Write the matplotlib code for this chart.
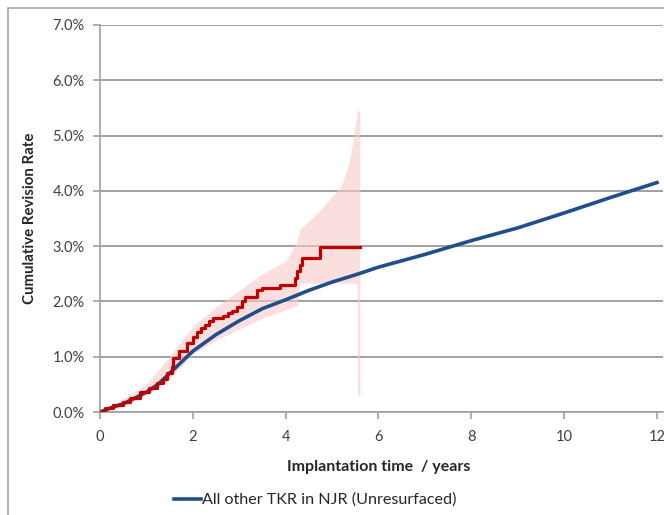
import matplotlib
matplotlib.use("Agg")
import matplotlib.pyplot as plt
from matplotlib.patches import Rectangle
from matplotlib.ticker import FuncFormatter

# Blue: all other TKR in NJR (unresurfaced), cumulative revision %
blue_x = [0, 0.25, 0.5, 0.75, 1, 1.25, 1.5, 1.75, 2, 2.5, 3, 3.5, 4, 4.5, 5, 5.5, 6, 7, 8, 9, 10, 11, 12]
blue_y = [0, 0.08, 0.15, 0.25, 0.36, 0.5, 0.7, 0.9, 1.1, 1.4, 1.65, 1.87, 2.03, 2.2, 2.35, 2.48, 2.62, 2.85, 3.1, 3.33, 3.6, 3.88, 4.15]

# Red: step curve (Kaplan-Meier style)
red_x = [0, 0.1, 0.28, 0.5, 0.65, 0.86, 1.05, 1.23, 1.35, 1.44, 1.55, 1.58, 1.7, 1.87, 2.0, 2.09, 2.18, 2.26, 2.35, 2.44,
         2.65, 2.75, 2.84, 2.95, 3.05, 3.12, 3.38, 3.49, 3.88, 4.2, 4.24, 4.31, 4.35, 4.74, 5.6]
red_y = [0, 0.07, 0.13, 0.18, 0.25, 0.36, 0.44, 0.52, 0.6, 0.7, 0.82, 0.97, 1.1, 1.25, 1.36, 1.45, 1.52, 1.57, 1.64, 1.7,
         1.74, 1.79, 1.82, 1.9, 2.0, 2.08, 2.2, 2.24, 2.3, 2.42, 2.55, 2.66, 2.78, 2.99, 2.99]

# Confidence band for the red curve
ci_x = [0, 0.5, 1, 1.5, 2, 2.5, 3, 3.5, 4, 4.25, 4.3, 4.75, 5.0, 5.2, 5.35, 5.45, 5.54, 5.55, 5.6]
ci_lo = [0, 0.1, 0.3, 0.6, 1.05, 1.3, 1.5, 1.7, 1.85, 1.92, 2.33, 2.33, 2.33, 2.33, 2.33, 2.33, 2.33, 0.3, 0.3]
ci_hi = [0, 0.25, 0.5, 1.0, 1.55, 1.9, 2.2, 2.5, 2.72, 3.1, 3.3, 3.65, 3.9, 4.1, 4.45, 4.9, 5.4, 5.45, 5.45]

y_ticks = [0, 1, 2, 3, 4, 5, 6, 7]
x_ticks = [0, 2, 4, 6, 8, 10, 12]

W, H = 664, 515
fig = plt.figure(figsize=(W / 100, H / 100), dpi=100)
fig.patch.set_facecolor("white")
fig.patches.append(Rectangle((8 / W, -0.1), 1.2, 1 - 8 / H + 0.1, transform=fig.transFigure,
                             fill=False, edgecolor="#a6a6a6", linewidth=1.2))

ax = fig.add_axes([100 / W, 1 - 412 / H, 563 / W, (412 - 25) / H])
ax.set_xlim(0, 12.13)
ax.set_ylim(0, 7)

ax.fill_between(ci_x, ci_lo, ci_hi, color="#f9c8c8", alpha=0.6, linewidth=0, zorder=1)
ax.plot(blue_x, blue_y, color="#1f4e8a", linewidth=2.6, zorder=3, label="All other TKR in NJR (Unresurfaced)")
ax.step(red_x, red_y, where="post", color="#c00000", linewidth=2.3, zorder=4)

ax.set_yticks(y_ticks)
ax.set_xticks(x_ticks)
ax.yaxis.set_major_formatter(FuncFormatter(lambda v, p: f"{v:.1f}%"))
ax.grid(axis="y", color="#a0a0a0", linewidth=1.4, zorder=0)
ax.set_axisbelow(True)

for s in ["top", "right"]:
    ax.spines[s].set_visible(False)
for s in ["left", "bottom"]:
    ax.spines[s].set_color("#a0a0a0")
    ax.spines[s].set_linewidth(1.2)
ax.tick_params(axis="both", colors="#a0a0a0", length=5, width=1.2, labelcolor="#404040",
               labelsize=10.5)
for lab in ax.get_xticklabels() + ax.get_yticklabels():
    lab.set_fontfamily("Lato")
ax.tick_params(axis="y", pad=6)
ax.tick_params(axis="x", pad=8)

ax.set_xlabel("Implantation time  / years", fontsize=11.5, fontweight="bold", family="Lato",
              color="#262626")
ax.xaxis.set_label_coords((379 - 100) / 563, -(460 - 412) / (412 - 25))
ax.set_ylabel("Cumulative Revision Rate", fontsize=10.8, fontweight="bold", family="Lato",
              color="#262626")
ax.yaxis.set_label_coords(-(100 - 37) / 563, 0.5)

leg = fig.legend(loc="center", bbox_to_anchor=(315 / W, 1 - 500 / H), frameon=False,
                 prop={"family": "Lato", "size": 11.6}, handlelength=1.7, handletextpad=0.05)
for t in leg.get_texts():
    t.set_color("#262626")

fig.savefig("out.png", dpi=100)
